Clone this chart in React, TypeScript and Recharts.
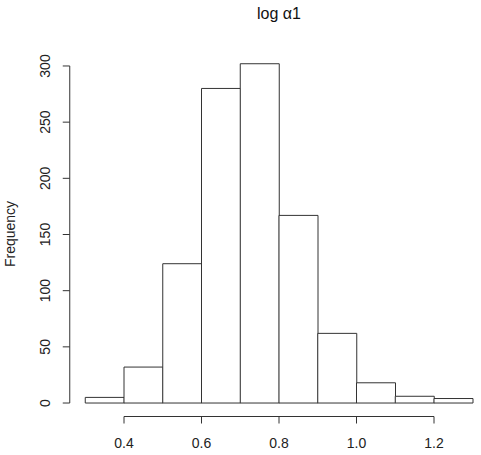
import {
  Bar,
  BarChart,
  ReferenceLine,
  XAxis,
  YAxis,
  Label,
} from "recharts";

// histogram of log alpha1, bins of width 0.1 from 0.3 to 1.3
const binMids = [0.35, 0.45, 0.55, 0.65, 0.75, 0.85, 0.95, 1.05, 1.15, 1.25];
const counts = [5, 32, 124, 280, 302, 167, 62, 18, 6, 4];
const xTicks = [0.4, 0.6, 0.8, 1.0, 1.2];
const yTicks = [0, 50, 100, 150, 200, 250, 300];

const data = binMids.map((m, i) => ({ mid: m, count: counts[i] }));

const FONT = "'Liberation Sans', Arial, Helvetica, sans-serif";
const INK = "#333";

function XTick(props: any) {
  const { x, payload } = props;
  return (
    <text
      x={x}
      y={443}
      textAnchor="middle"
      dominantBaseline="central"
      style={{ fontSize: 14, fontFamily: FONT }}
      fill="#222"
    >
      {Number(payload.value).toFixed(1)}
    </text>
  );
}

function YTick(props: any) {
  const { y, payload } = props;
  return (
    <text
      x={45}
      y={y}
      transform={`rotate(-90, 45, ${y})`}
      textAnchor="middle"
      dominantBaseline="central"
      style={{ fontSize: 14, fontFamily: FONT }}
      fill="#222"
    >
      {payload.value}
    </text>
  );
}

export default function App() {
  return (
    <div style={{ position: "absolute", left: 0, top: 0, width: 481, height: 455 }}>
      <div
        style={{
          position: "absolute",
          left: 0,
          width: 558,
          top: 5,
          textAlign: "center",
          fontFamily: FONT,
          fontSize: 16,
          color: "#111",
        }}
      >
        log α1
      </div>
      <BarChart
        width={481}
        height={455}
        data={data}
        margin={{ top: 52.5, right: 0.5, left: 0, bottom: 0 }}
        barCategoryGap={0}
        barGap={0}
      >
        <XAxis
          type="number"
          dataKey="mid"
          domain={[0.26, 1.32]}
          ticks={xTicks}
          allowDataOverflow
          axisLine={false}
          tickLine={{ stroke: INK }}
          tickSize={7}
          height={38.5}
          tick={<XTick />}
        />
        <YAxis
          type="number"
          domain={[-12, 312]}
          ticks={yTicks}
          allowDataOverflow
          axisLine={false}
          tickLine={{ stroke: INK }}
          tickSize={7}
          width={69.75}
          tick={<YTick />}
        >
          <Label
            content={() => (
              <text
                x={10}
                y={234}
                transform="rotate(-90, 10, 234)"
                textAnchor="middle"
                dominantBaseline="central"
                style={{ fontSize: 14, fontFamily: FONT }}
                fill="#222"
              >
                Frequency
              </text>
            )}
          />
        </YAxis>
        <ReferenceLine
          segment={[
            { x: 0.26, y: 0 },
            { x: 0.26, y: 300 },
          ]}
          stroke={INK}
          ifOverflow="visible"
        />
        <ReferenceLine
          segment={[
            { x: 0.4, y: -12 },
            { x: 1.2, y: -12 },
          ]}
          stroke={INK}
          ifOverflow="visible"
        />
        <Bar
          dataKey="count"
          fill="#fff"
          stroke={INK}
          strokeWidth={1}
          isAnimationActive={false}
        />
      </BarChart>
    </div>
  );
}
